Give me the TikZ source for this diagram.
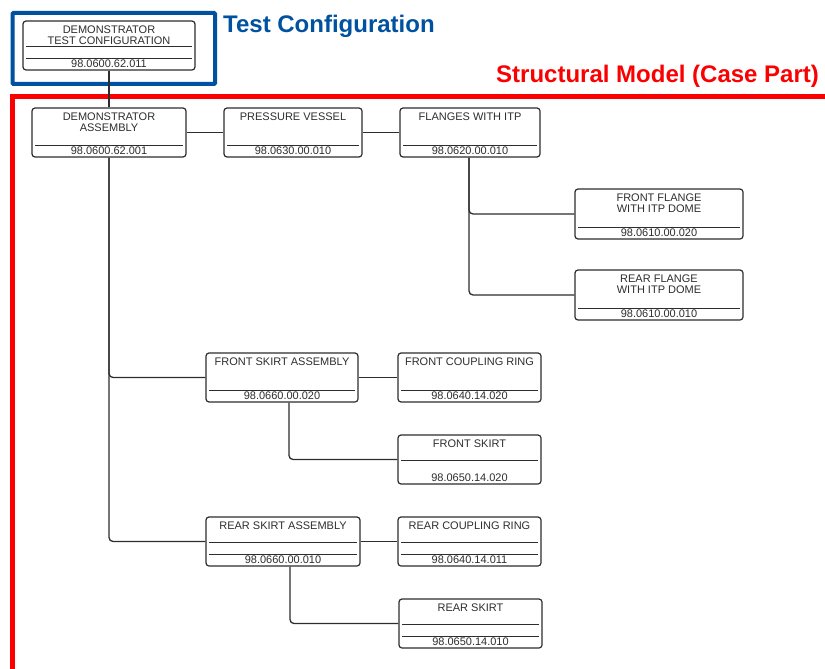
\documentclass[tikz,border=0pt]{standalone}
\usepackage{fontspec}
\setmainfont{Liberation Sans}
\definecolor{testblue}{RGB}{0,82,160}
\definecolor{modelred}{RGB}{250,0,0}
\definecolor{boxgray}{RGB}{45,45,45}
\begin{document}
\begin{tikzpicture}
[x=1pt,y=-1pt,
part/.style={draw=boxgray, line width=1.2pt, rounded corners=3pt, inner sep=0pt, minimum height=49},
title/.style={anchor=north, inner sep=0pt, align=center, text=boxgray, font=\fontsize{11}{11}\selectfont},
partno/.style={anchor=base, inner sep=0pt, text=boxgray, font=\fontsize{11}{11}\selectfont},
sep/.style={draw=boxgray, line width=1pt},
link/.style={draw=boxgray, line width=1.3pt, rounded corners=4pt},
framelabel/.style={anchor=base west, inner sep=0pt, font=\fontsize{24}{28}\selectfont\bfseries}]
\useasboundingbox (0,0) rectangle (825,669);

% FRAMES
\draw[testblue, line width=4pt, rounded corners=1pt] (12.5,13) rectangle (215,84);
\draw[modelred, line width=4.5pt] (825,96.5) -- (12.5,96.5) -- (12.5,669);
\node[framelabel, text=testblue] (testlbl) at (223,33) {Test Configuration};
\node[framelabel, text=modelred] (modellbl) at (496,83) {Structural Model (Case Part)};

% BOXES
\node[part, minimum width=172] (tc) at (109,45.5) {};
\node[part, minimum width=154] (da) at (109,132.5) {};
\node[part, minimum width=138] (pv) at (293,132.5) {};
\node[part, minimum width=140] (fl) at (470,132.5) {};
\node[part, minimum width=168, minimum height=50] (ff) at (659,214) {};
\node[part, minimum width=168, minimum height=50] (rf) at (659,295) {};
\node[part, minimum width=152] (fsa) at (282,377.5) {};
\node[part, minimum width=143] (fcr) at (469.5,377.5) {};
\node[part, minimum width=143] (fs) at (469.5,459.5) {};
\node[part, minimum width=154] (rsa) at (283,541.5) {};
\node[part, minimum width=143] (rcr) at (469.5,541.5) {};
\node[part, minimum width=143] (rs) at (470.5,623.5) {};

% TITLES
\node[title] (tc-t) at ([yshift=-5pt]tc.north) {DEMONSTRATOR\\TEST CONFIGURATION};
\node[title] (da-t) at ([yshift=-5pt]da.north) {DEMONSTRATOR\\ASSEMBLY};
\node[title] (pv-t) at ([yshift=-5pt]pv.north) {PRESSURE VESSEL};
\node[title] (fl-t) at ([yshift=-5pt]fl.north) {FLANGES WITH ITP};
\node[title] (ff-t) at ([yshift=-5pt]ff.north) {FRONT FLANGE\\WITH ITP DOME};
\node[title] (rf-t) at ([yshift=-5pt]rf.north) {REAR FLANGE\\WITH ITP DOME};
\node[title] (fsa-t) at ([yshift=-5pt]fsa.north) {FRONT SKIRT ASSEMBLY};
\node[title] (fcr-t) at ([yshift=-5pt]fcr.north) {FRONT COUPLING RING};
\node[title] (fs-t) at ([yshift=-5pt]fs.north) {FRONT SKIRT};
\node[title] (rsa-t) at ([yshift=-5pt]rsa.north) {REAR SKIRT ASSEMBLY};
\node[title] (rcr-t) at ([yshift=-5pt]rcr.north) {REAR COUPLING RING};
\node[title] (rs-t) at ([yshift=-5pt]rs.north) {REAR SKIRT};

% PART NUMBERS
\node[partno] (tc-n) at ([yshift=3pt]tc.south) {98.0600.62.011};
\node[partno] (da-n) at ([yshift=3pt]da.south) {98.0600.62.001};
\node[partno] (pv-n) at ([yshift=3pt]pv.south) {98.0630.00.010};
\node[partno] (fl-n) at ([yshift=3pt]fl.south) {98.0620.00.010};
\node[partno] (ff-n) at ([yshift=3pt]ff.south) {98.0610.00.020};
\node[partno] (rf-n) at ([yshift=3pt]rf.south) {98.0610.00.010};
\node[partno] (fsa-n) at ([yshift=3pt]fsa.south) {98.0660.00.020};
\node[partno] (fcr-n) at ([yshift=3pt]fcr.south) {98.0640.14.020};
\node[partno] (fs-n) at ([yshift=3pt]fs.south) {98.0650.14.020};
\node[partno] (rsa-n) at ([yshift=3pt]rsa.south) {98.0660.00.010};
\node[partno] (rcr-n) at ([yshift=3pt]rcr.south) {98.0640.14.011};
\node[partno] (rs-n) at ([yshift=3pt]rs.south) {98.0650.14.010};

% SEPARATORS
\foreach \b in {tc,da,pv,fl,ff,rf,fsa,fcr,rsa,rcr,rs}
  \draw[sep] ([xshift=4pt,yshift=12pt]\b.south west) -- ([xshift=-4pt,yshift=12pt]\b.south east);
\foreach \b in {tc,rsa,rcr,rs,fs}
  \draw[sep] ([xshift=4pt,yshift=24pt]\b.south west) -- ([xshift=-4pt,yshift=24pt]\b.south east);

% LINKS
\draw[link] (tc) -- (da);
\draw[link] (da) -- (pv);
\draw[link] (pv) -- (fl);
\draw[link] ([xshift=-1pt]fl.south) |- (ff.west);
\draw[link] ([xshift=-1pt]fl.south) |- (rf.west);
\draw[link] (da.south) |- (fsa.west);
\draw[link] (da.south) |- (rsa.west);
\draw[link] (fsa) -- (fcr);
\draw[link] (rsa) -- (rcr);
\draw[link] ([xshift=7pt]fsa.south) |- (fs.west);
\draw[link] ([xshift=7pt]rsa.south) |- (rs.west);
\end{tikzpicture}
\end{document}
